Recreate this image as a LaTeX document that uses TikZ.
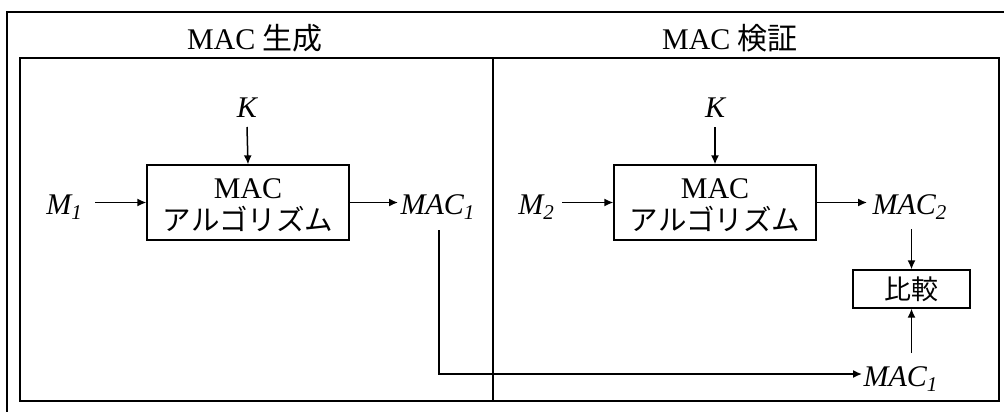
\documentclass[tikz,border=0pt]{standalone}
\usepackage{fontspec}
\setmainfont{Liberation Serif}
\newfontfamily\jp{Noto Sans CJK JP}
\usetikzlibrary{arrows.meta}
\newcommand{\sub}[1]{\textsubscript{\itshape #1}}
\begin{document}
\begin{tikzpicture}[x=1pt,y=-1pt,
  line width=1.3pt,
  ttl/.style={font=\fontsize{30}{34}\selectfont, inner sep=0pt},
  lbl/.style={font=\fontsize{30}{34}\selectfont\itshape, inner ysep=0pt, anchor=base},
  algbox/.style={draw, minimum width=202pt, minimum height=75pt, align=center, font=\fontsize{30}{33}\selectfont, inner sep=0pt},
  cmpbox/.style={draw, minimum width=117pt, minimum height=38pt, font=\fontsize{27}{30}\selectfont, inner sep=0pt},
  arr/.style={-{Latex[length=9pt,width=8pt]}, line width=1.5pt}]
\useasboundingbox (0,0) rectangle (1004,412);
% frames
\draw (7,412) -- (7,12) -- (1004,12);
\draw (20,58) rectangle (999,401);
\draw (493,58) -- (493,401);
% titles
\node[ttl] (t1) at (255,38) {MAC {\jp 生成}};
\node[ttl] (t2) at (730,38) {MAC {\jp 検証}};
% left
\node[algbox] (alg1) at (248,202.5) {\rule{0pt}{26pt}MAC\\[-1pt]{\jp\fontsize{28.5}{33}\selectfont アルゴリズム}};
\node[lbl, inner xsep=0pt] (k1) at (247,117) {K};
\node[lbl, anchor=base east, inner xsep=12pt] (m1) at (95,214) {M\sub{1}};
\node[lbl, anchor=base west, inner xsep=2pt] (mac1) at (398,214) {MAC\sub{1}};
\draw[arr] ([yshift=-10pt]k1.base) -- (alg1.north);
\draw[arr] (m1.east |- alg1.west) -- (alg1.west);
\draw[arr] (alg1.east) -- (alg1.east -| mac1.west);
% right
\node[algbox] (alg2) at (715,202.5) {\rule{0pt}{26pt}MAC\\[-1pt]{\jp\fontsize{28.5}{33}\selectfont アルゴリズム}};
\node[lbl, inner xsep=0pt] (k2) at (715,117) {K};
\node[lbl, anchor=base east, inner xsep=7pt] (m2) at (562,214) {M\sub{2}};
\node[lbl, anchor=base west, inner xsep=5pt] (mac2) at (867,214) {MAC\sub{2}};
\node[cmpbox] (cmp) at (911.5,289) {\jp 比較};
\node[lbl, anchor=base west, inner xsep=1pt] (mac1b) at (862,386) {MAC\sub{1}};
\draw[arr] ([yshift=-10pt]k2.base) -- (alg2.north);
\draw[arr] (m2.east |- alg2.west) -- (alg2.west);
\draw[arr] (alg2.east) -- (alg2.east -| mac2.west);
\draw[arr] ([yshift=-15pt]mac2.base -| cmp.north) -- (cmp.north);
\draw[arr] ([yshift=33pt]mac1b.base -| cmp.south) -- (cmp.south);
\coordinate (c1) at (439,230);
\coordinate (c2) at (439,374);
\draw[arr] (c1) -- (c2) -- (c2 -| mac1b.west);
\end{tikzpicture}
\end{document}
